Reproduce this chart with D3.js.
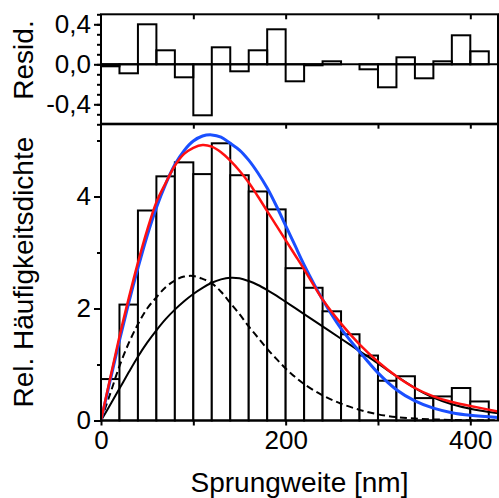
<!DOCTYPE html>
<html><head><meta charset="utf-8">
<script src="https://cdn.jsdelivr.net/npm/d3@7"></script>
<style>
body{margin:0;background:#fff;}
text{font-family:"Liberation Sans",Arial,sans-serif;}
</style></head>
<body><svg id="c" width="499" height="498"></svg>
<script>
// ---- data ----
const binStarts = [0,20,40,60,80,100,120,140,160,180,200,220,240,260,280,300,320,340,360,380,400];
const binWidth = 20;
const histValues = [0.74,2.07,3.75,4.36,4.61,4.40,4.95,4.38,4.09,3.77,2.72,2.37,1.95,1.54,1.16,0.71,0.79,0.40,0.43,0.58,0.34];
const residuals = [-0.02,-0.09,0.40,0.14,-0.13,-0.51,0.17,-0.07,0.14,0.35,-0.17,-0.01,0.03,0.0,-0.05,-0.23,0.07,-0.14,0.03,0.29,0.13];
const curveX = [0,10,20,30,40,50,60,70,80,90,100,110,120,130,140,150,160,170,180,190,200,210,220,240,260,280,300,320,340,360,380,400,430];
const fitOne = [0,0.72,1.43,2.10,2.72,3.30,3.80,4.22,4.57,4.82,4.99,5.08,5.10,5.06,4.95,4.83,4.65,4.42,4.15,3.83,3.48,3.13,2.78,2.16,1.64,1.23,0.85,0.55,0.35,0.22,0.14,0.093,0.055];
const fitTwo = [0,0.76,1.50,2.18,2.82,3.40,3.90,4.24,4.55,4.76,4.87,4.92,4.89,4.79,4.64,4.46,4.25,4.00,3.74,3.48,3.22,2.96,2.70,2.16,1.73,1.36,1.05,0.79,0.58,0.43,0.33,0.26,0.16];
const compSlow = [0,0.28,0.57,0.86,1.14,1.39,1.61,1.81,1.98,2.13,2.26,2.37,2.46,2.52,2.55,2.54,2.49,2.42,2.33,2.23,2.12,2.01,1.90,1.68,1.46,1.24,1.02,0.79,0.58,0.41,0.29,0.21,0.13];
const compFast = [0,0.48,0.97,1.38,1.72,2.00,2.20,2.38,2.50,2.57,2.58,2.53,2.45,2.30,2.10,1.90,1.68,1.48,1.28,1.10,0.93,0.78,0.65,0.45,0.30,0.19,0.11,0.06,0.035,0.02,0.01,0.005,0.002];
const xTicks = [0,200,400];
const xTicksAll = [0,100,200,300,400];
const yTicks = [0,2,4];
const yMinor = [1,3,5];
const rTicks = [-0.4,0,0.4];
const rMinor = [-0.6,-0.5,-0.4,-0.3,-0.2,-0.1,0,0.1,0.2,0.3,0.4,0.5];

// ---- layout ----
const svg = d3.select("#c");
const L = 101, R = 498;
const x = d3.scaleLinear().domain([0,430]).range([L,R]);
const yB = d3.scaleLinear().domain([0,5.3]).range([420.5,123.7]);
const yT = d3.scaleLinear().domain([-0.6,0.5]).range([124.3,14.3]);
const fs = 26;

svg.append("rect").attr("width",499).attr("height",498).attr("fill","#fff");

const defs = svg.append("defs");
defs.append("clipPath").attr("id","clipB").append("rect")
  .attr("x",L).attr("y",yB.range()[1]).attr("width",R-L).attr("height",yB.range()[0]-yB.range()[1]);

// histogram bars
svg.append("g").selectAll("rect").data(binStarts).join("rect")
  .attr("x",d=>x(d)).attr("width",d=>x(d+binWidth)-x(d))
  .attr("y",(d,i)=>yB(histValues[i])).attr("height",(d,i)=>yB(0)-yB(histValues[i]))
  .attr("fill","#fff").attr("stroke","#000").attr("stroke-width",2);

// curves
const line = arr => d3.line().x((d,i)=>x(curveX[i])).y(d=>yB(d)).curve(d3.curveCatmullRom.alpha(0.5))(arr);
const cg = svg.append("g").attr("clip-path","url(#clipB)");
cg.append("path").attr("d",line(compFast)).attr("fill","none").attr("stroke","#000").attr("stroke-width",2).attr("stroke-dasharray","7,4");
cg.append("path").attr("d",line(compSlow)).attr("fill","none").attr("stroke","#000").attr("stroke-width",2);
cg.append("path").attr("d",line(fitOne)).attr("fill","none").attr("stroke","#1a4fff").attr("stroke-width",3);
cg.append("path").attr("d",line(fitTwo)).attr("fill","none").attr("stroke","#ff1010").attr("stroke-width",2.5);

// residual bars
svg.append("g").selectAll("rect").data(binStarts).join("rect")
  .attr("x",d=>x(d)).attr("width",d=>x(d+binWidth)-x(d))
  .attr("y",(d,i)=>yT(Math.max(0,residuals[i]))).attr("height",(d,i)=>Math.abs(yT(residuals[i])-yT(0)))
  .attr("fill","none").attr("stroke","#000").attr("stroke-width",2);
svg.append("line").attr("x1",L).attr("x2",R).attr("y1",yT(0)).attr("y2",yT(0)).attr("stroke","#000").attr("stroke-width",2);

// frames
svg.append("rect").attr("x",L).attr("y",yT.range()[1]).attr("width",R-L).attr("height",yT.range()[0]-yT.range()[1]).attr("fill","none").attr("stroke","#000").attr("stroke-width",2);
svg.append("rect").attr("x",L).attr("y",yB.range()[1]).attr("width",R-L).attr("height",yB.range()[0]-yB.range()[1]).attr("fill","none").attr("stroke","#000").attr("stroke-width",2);

function styleAxis(g){
  g.select(".domain").remove();
  g.selectAll(".tick line").attr("stroke","#000").attr("stroke-width",2);
  g.selectAll("text").attr("font-size",fs).attr("fill","#000").attr("font-family","Liberation Sans, Arial, sans-serif");
}
const fmtComma = d => d3.format(".1f")(d).replace("\u2212","-").replace(".",",");

// bottom panel axes
svg.append("g").attr("transform",`translate(0,${yB(0)})`)
  .call(d3.axisBottom(x).tickValues(xTicks).tickSize(5).tickPadding(5).tickFormat(d3.format("d"))).call(styleAxis);
svg.append("g").attr("transform",`translate(0,${yB(0)})`)
  .call(d3.axisBottom(x).tickValues([100,300]).tickSize(5).tickFormat("")).call(styleAxis);
svg.append("g").attr("transform",`translate(${L},0)`)
  .call(d3.axisLeft(yB).tickValues(yTicks).tickSize(7).tickPadding(3).tickFormat(d3.format("d"))).call(styleAxis);
svg.append("g").attr("transform",`translate(${L},0)`)
  .call(d3.axisLeft(yB).tickValues(yMinor).tickSize(4).tickFormat("")).call(styleAxis);
svg.append("g").attr("transform",`translate(${R},0)`)
  .call(d3.axisLeft(yB).tickValues([1,2,3,4,5]).tickSize(-5).tickFormat("")).call(styleAxis);
svg.append("g").attr("transform",`translate(0,${yB.range()[1]})`)
  .call(d3.axisTop(x).tickValues(xTicksAll.slice(1)).tickSize(-5).tickFormat("")).call(styleAxis);

// top panel axes
svg.append("g").attr("transform",`translate(${L},0)`)
  .call(d3.axisLeft(yT).tickValues(rTicks).tickSize(7).tickPadding(3).tickFormat(fmtComma)).call(styleAxis);
svg.append("g").attr("transform",`translate(${L},0)`)
  .call(d3.axisLeft(yT).tickValues(rMinor).tickSize(4).tickFormat("")).call(styleAxis);
svg.append("g").attr("transform",`translate(${R},0)`)
  .call(d3.axisLeft(yT).tickValues(rMinor).tickSize(-4).tickFormat("")).call(styleAxis);
svg.append("g").attr("transform",`translate(0,${yT.range()[1]})`)
  .call(d3.axisTop(x).tickValues(xTicksAll.slice(1)).tickSize(-5).tickFormat("")).call(styleAxis);

// titles
svg.append("text").attr("x",(L+R)/2).attr("y",492).attr("text-anchor","middle").attr("font-size",28).text("Sprungweite [nm]");
svg.append("text").attr("transform",`translate(33,${(yB.range()[0]+yB.range()[1])/2}) rotate(-90)`).attr("text-anchor","middle").attr("font-size",28).text("Rel. Häufigkeitsdichte");
svg.append("text").attr("transform",`translate(33,60) rotate(-90)`).attr("text-anchor","middle").attr("font-size",28).text("Resid.");
</script></body></html>
